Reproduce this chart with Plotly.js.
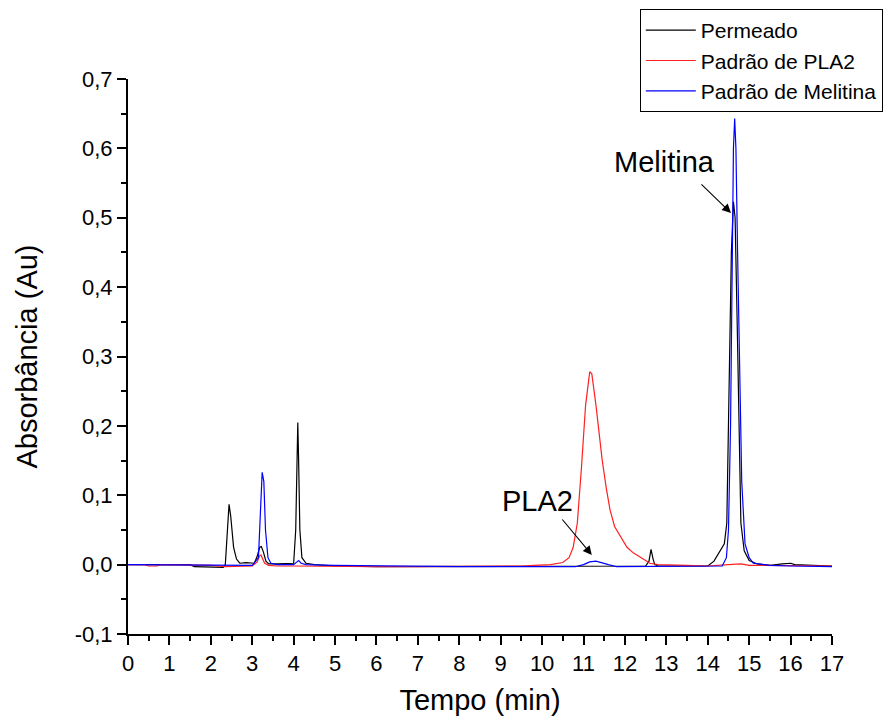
<!DOCTYPE html>
<html>
<head>
<meta charset="utf-8">
<script src="https://cdn.plot.ly/plotly-3.0.1.min.js"></script>
<style>html,body{margin:0;padding:0;background:#fff;}#chart{width:892px;height:719px;}</style>
</head>
<body>
<div id="chart"></div>
<script>
// Permeado (black)
const permT = [0,0.5,1.0,1.5,1.6,2.0,2.3,2.35,2.4,2.44,2.48,2.55,2.62,2.7,2.85,2.95,3.05,3.12,3.18,3.22,3.27,3.33,3.4,3.6,3.9,4.0,4.05,4.08,4.1,4.12,4.15,4.2,4.3,4.5,5,6,7,8,8.2,8.6,9.0,9.3,9.5,9.6,9.7,10,10.5,11,11.5,12,12.5,12.58,12.63,12.68,12.72,12.8,13.5,14.0,14.15,14.3,14.4,14.46,14.52,14.57,14.62,14.66,14.71,14.76,14.8,14.88,15.0,15.2,15.5,15.8,15.9,16.0,16.1,16.5,17];
const permA = [0,0,0,0,-0.003,-0.004,-0.004,0.0,0.06,0.087,0.07,0.025,0.008,0.002,0.003,0.003,0.002,0.012,0.025,0.026,0.018,0.005,0.001,0.001,0.001,0.002,0.05,0.17,0.205,0.15,0.05,0.01,0.002,0,-0.002,-0.003,-0.003,-0.003,-0.002,-0.002,-0.002,-0.003,-0.002,-0.002,-0.003,-0.003,-0.003,-0.002,-0.002,-0.002,-0.002,0.005,0.022,0.008,0,-0.002,-0.002,-0.002,0.005,0.02,0.03,0.06,0.25,0.45,0.523,0.5,0.35,0.15,0.06,0.02,0.006,0.001,-0.001,0.001,0.002,0.002,0.0,-0.001,-0.002];

// Padrão de PLA2 (red)
const plaT = [0,0.4,0.5,0.7,0.8,1.5,2.0,2.35,2.6,3.0,3.12,3.17,3.21,3.25,3.3,3.4,3.6,4,5,6,7,8,8.8,9,9.5,9.8,10.2,10.5,10.65,10.75,10.85,10.95,11.05,11.15,11.2,11.3,11.4,11.45,11.55,11.64,11.75,11.93,12.05,12.2,12.35,12.5,12.6,12.8,13.5,14.0,14.5,14.8,15.0,16,17];
const plaA = [0,0,-0.002,-0.002,0,0,-0.001,-0.003,-0.003,-0.002,0.004,0.012,0.014,0.008,0.002,-0.001,-0.002,-0.002,-0.003,-0.003,-0.003,-0.003,-0.003,-0.003,-0.002,-0.001,0,0.003,0.01,0.025,0.06,0.14,0.23,0.278,0.275,0.23,0.18,0.151,0.11,0.079,0.055,0.036,0.025,0.017,0.012,0.006,0.002,0,-0.001,-0.002,0.0,0.001,-0.001,-0.002,-0.002];

// Padrão de Melitina (blue)
const melT = [0,1,2,2.5,3.0,3.15,3.2,3.24,3.28,3.32,3.38,3.45,3.6,4.0,4.08,4.12,4.18,4.3,5,6,7,8,9,10,10.8,11.0,11.15,11.3,11.45,11.6,11.8,12.5,13,14,14.35,14.45,14.5,14.55,14.58,14.62,14.65,14.68,14.72,14.76,14.82,14.9,15.0,15.1,15.5,16,17];
const melA = [0,0,-0.001,-0.001,-0.001,0.01,0.08,0.133,0.12,0.05,0.01,0.002,0,0,0.004,0.006,0.002,0,-0.001,-0.002,-0.003,-0.003,-0.003,-0.003,-0.003,0.0,0.004,0.005,0.003,0.0,-0.003,-0.003,-0.003,-0.003,-0.002,0.01,0.05,0.2,0.38,0.6,0.643,0.6,0.45,0.3,0.12,0.03,0.01,0.002,-0.001,-0.002,-0.003];

const seriesNames = ['Permeado','Padrão de PLA2','Padrão de Melitina'];
const yTickVals = [-0.1,0,0.1,0.2,0.3,0.4,0.5,0.6,0.7];
const yTickText = ['-0,1','0,0','0,1','0,2','0,3','0,4','0,5','0,6','0,7'];
const xTickVals = [0,1,2,3,4,5,6,7,8,9,10,11,12,13,14,15,16,17];

const FONT = '"Liberation Sans", Arial, sans-serif';

const traces = [
  {x: permT, y: permA, name: seriesNames[0], mode: 'lines', line: {color: '#000000', width: 1.2}},
  {x: plaT, y: plaA, name: seriesNames[1], mode: 'lines', line: {color: '#ff2020', width: 1.2}},
  {x: melT, y: melA, name: seriesNames[2], mode: 'lines', line: {color: '#0000ff', width: 1.2}}
];

const layout = {
  width: 892, height: 719,
  margin: {l: 128, r: 60, t: 79, b: 85, autoexpand: false},
  paper_bgcolor: '#ffffff', plot_bgcolor: '#ffffff',
  font: {family: FONT, color: '#000'},
  showlegend: true,
  legend: {
    x: 0.727, y: 1.126, xanchor: 'left', yanchor: 'top',
    bordercolor: '#000', borderwidth: 1, bgcolor: '#fff',
    font: {family: FONT, size: 21, color: '#000'},
    itemwidth: 50,
    tracegroupgap: 0
  },
  xaxis: {
    range: [0, 17], tickmode: 'array', tickvals: xTickVals,
    ticks: 'outside', ticklen: 9, tickwidth: 2, tickcolor: '#000',
    showline: true, linecolor: '#000', linewidth: 2,
    showgrid: false, zeroline: false,
    tickfont: {family: FONT, size: 22, color: '#000'},
    minor: {dtick: 0.5, tick0: 0, ticks: 'outside', ticklen: 5, tickwidth: 2, tickcolor: '#000', showgrid: false},
    title: {text: 'Tempo (min)', font: {family: FONT, size: 29, color: '#000'}, standoff: 14}
  },
  yaxis: {
    range: [-0.1, 0.7], tickmode: 'array', tickvals: yTickVals, ticktext: yTickText,
    ticks: 'outside', ticklen: 9, tickwidth: 2, tickcolor: '#000',
    showline: true, linecolor: '#000', linewidth: 2,
    showgrid: false, zeroline: false,
    tickfont: {family: FONT, size: 22, color: '#000'},
    minor: {dtick: 0.05, tick0: 0, ticks: 'outside', ticklen: 5, tickwidth: 2, tickcolor: '#000', showgrid: false},
    title: {text: 'Absorbância (Au)', font: {family: FONT, size: 29, color: '#000'}, standoff: 29}
  },
  annotations: [
    {x: 14.56, y: 0.507, xref: 'x', yref: 'y', text: ' ', showarrow: true,
     font: {size: 1}, borderpad: 0,
     axref: 'pixel', ayref: 'pixel', ax: -30, ay: -29,
     arrowhead: 2, arrowsize: 1.6, arrowwidth: 1.1, arrowcolor: '#000'},
    {x: 12.95, y: 0.58, xref: 'x', yref: 'y', text: 'Melitina', showarrow: false,
     font: {family: FONT, size: 29, color: '#000'}},
    {x: 11.2, y: 0.014, xref: 'x', yref: 'y', text: ' ', showarrow: true,
     font: {size: 1}, borderpad: 0,
     axref: 'pixel', ayref: 'pixel', ax: -30, ay: -36,
     arrowhead: 2, arrowsize: 1.6, arrowwidth: 1.1, arrowcolor: '#000'},
    {x: 9.9, y: 0.091, xref: 'x', yref: 'y', text: 'PLA2', showarrow: false,
     font: {family: FONT, size: 29, color: '#000'}}
  ]
};

Plotly.newPlot('chart', traces, layout, {displayModeBar: false, staticPlot: true});
</script>
</body>
</html>
